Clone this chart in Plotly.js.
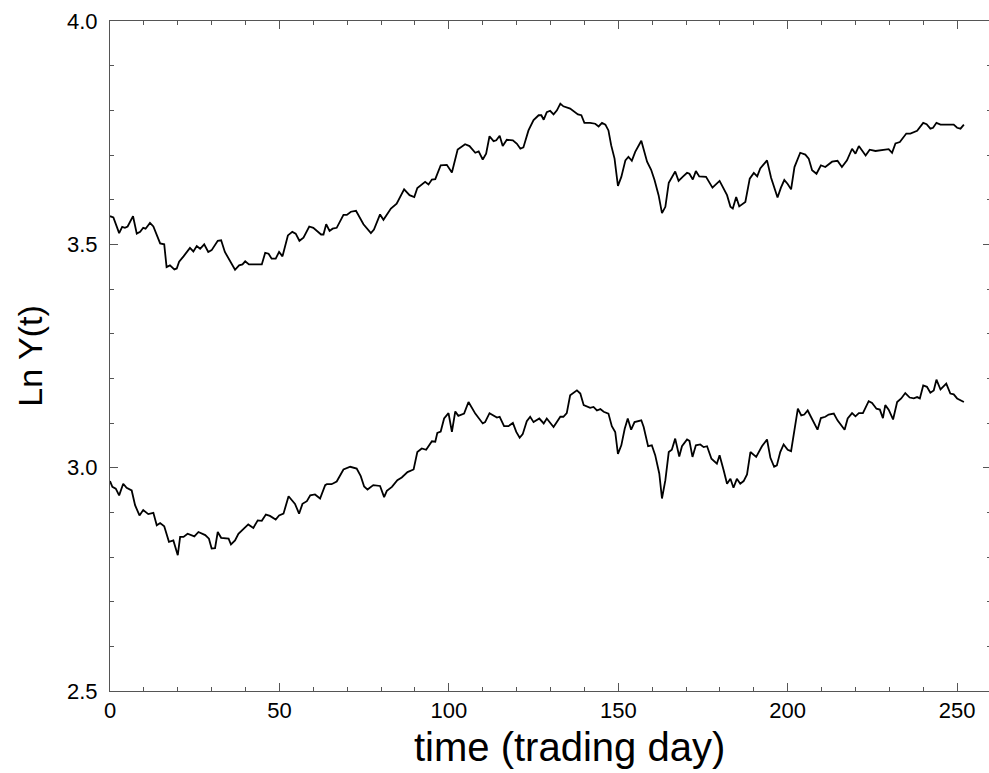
<!DOCTYPE html>
<html>
<head>
<meta charset="utf-8">
<script src="https://cdn.plot.ly/plotly-3.0.1.min.js"></script>
<style>
html,body{margin:0;padding:0;overflow:hidden;background:#fff;}
#chart{width:991px;height:773px;}
</style>
</head>
<body>
<div id="chart"></div>
<script>
// Upper series (trading day, Ln Y)
const upperDays = [0,1,2.7,3.6,4.4,5.2,6.8,7.9,8.9,9.8,10.5,11.8,12.8,14.8,16,16.7,17.7,19,19.7,20.4,21.7,23.6,24.6,25.6,26.6,27.8,29,30,31.8,32.8,33.9,35.4,36.9,38.1,39.1,39.9,41,44.8,45.8,46.8,47.7,48.9,49.9,50.9,52.5,53.8,54.8,55.9,57.1,58.8,60,62.3,63,63.8,64.8,65.7,66.9,68.9,69.9,71.1,72.6,74.8,77,77.9,79.7,80.7,82.9,84.6,86.8,88.4,89.8,90.7,92,93,94,95,96,97.6,99.4,100.9,102.6,104.8,106.1,107.8,108.8,110,111,112,113.2,114,115,115.9,117.1,118.9,120.1,121.1,122,123.5,125,126.5,127.3,128,128.9,129.9,130.9,131.9,132.9,133.8,135.8,137.1,138.1,139.1,140,141.7,143.2,144.2,145.2,146.2,147.1,147.9,148.9,149.9,150.9,152.1,153,154,155,156.8,157.5,158.5,159.7,160.7,161.9,162.9,163.9,164.9,166.8,167.8,169,170.3,171,172,172.9,173.9,175.9,177.8,179.9,181.1,182.1,183.1,183.8,184.8,185.7,187.5,188.8,190,191,191.9,193.9,195.1,197,198,199,200,201,202,203.7,205.2,206.2,207.2,208.5,209.8,211.1,213.1,214.7,216,217.5,219,220,221,223,224.2,225.9,228.8,229.8,230.8,231.8,233.1,235,236.2,238.2,240,241,242.1,242.9,243.9,245.1,249,250,251,252];
const upperVals = [3.563,3.560,3.525,3.539,3.537,3.540,3.563,3.524,3.528,3.537,3.535,3.548,3.540,3.502,3.500,3.449,3.453,3.444,3.446,3.461,3.473,3.492,3.484,3.496,3.490,3.500,3.483,3.487,3.508,3.509,3.483,3.464,3.443,3.453,3.455,3.462,3.455,3.455,3.481,3.479,3.468,3.468,3.483,3.473,3.520,3.528,3.524,3.508,3.515,3.540,3.537,3.522,3.522,3.545,3.530,3.535,3.537,3.566,3.566,3.573,3.575,3.545,3.525,3.533,3.567,3.555,3.580,3.591,3.623,3.610,3.606,3.626,3.634,3.640,3.634,3.645,3.646,3.677,3.678,3.661,3.712,3.724,3.720,3.705,3.708,3.690,3.703,3.742,3.731,3.733,3.743,3.720,3.734,3.733,3.725,3.714,3.717,3.755,3.778,3.789,3.789,3.779,3.796,3.799,3.791,3.800,3.815,3.809,3.804,3.796,3.791,3.789,3.772,3.772,3.770,3.764,3.772,3.768,3.755,3.722,3.692,3.631,3.651,3.688,3.696,3.687,3.707,3.732,3.714,3.685,3.667,3.644,3.610,3.570,3.584,3.638,3.663,3.642,3.651,3.660,3.658,3.645,3.664,3.652,3.651,3.627,3.642,3.625,3.610,3.584,3.580,3.606,3.585,3.595,3.647,3.660,3.652,3.670,3.688,3.649,3.605,3.627,3.644,3.635,3.623,3.673,3.705,3.701,3.692,3.666,3.658,3.677,3.673,3.685,3.687,3.673,3.688,3.714,3.703,3.720,3.699,3.712,3.709,3.712,3.713,3.705,3.726,3.729,3.748,3.748,3.754,3.772,3.769,3.759,3.761,3.772,3.768,3.768,3.761,3.759,3.768];

// Lower series (trading day, Ln Y)
const lowerDays = [0,0.7,1.7,2.7,3.9,4.9,6.4,7.4,8.7,9.8,11.3,12.8,13.8,14.8,16,17.4,18.7,19.2,20,20.7,21.7,22.9,24.9,26.1,28.1,29.2,30,31,31.8,32.8,35,35.7,36.9,37.9,39.4,40.8,42.3,43.6,44.8,46,47.2,48.9,49.9,51.2,52.7,54.6,55.8,56.8,58.1,59.1,60.5,62,63.5,64,65.4,66.9,68.9,70.9,72.8,74,75,76,77.7,79.7,80.9,81.7,83.2,84.8,86.1,87.8,89.6,90.7,92,93.3,95,96,96.6,97.6,98.6,99.9,100.9,101.9,102.8,104.5,105.8,107.8,110,110.7,112,113.2,114.2,115,116.3,117.6,118.9,119.9,120.9,121.8,123,124,125,126.7,128,128.9,130.9,132.9,133.8,134.8,135.8,137.8,138.8,139.8,141.7,142.7,143.7,144.7,145.7,147.1,148.1,149.1,149.9,150.9,151.9,152.8,153.8,154.8,156.8,157.5,158.8,159.9,160.9,162.1,162.9,163.9,164.9,165.8,166.8,168,168.8,170.3,171,171.9,172.9,174.2,175.2,176.2,177.5,179.1,179.9,181.1,182.1,183.1,184,185,186,187,188,189,190.7,192.4,193.9,194.9,196,196.8,197.8,198.8,200,201,201.8,203,204,204.9,205.9,207.2,208.8,209.8,211.1,212.1,213.6,214.7,216.8,217.7,219,220,221,222.2,223.9,224.9,226.2,227.2,228.1,228.8,229.8,231.1,232.3,233.5,234.7,236,237.2,238.2,239,240,241.1,242.1,243.1,243.9,245.1,246.8,248,249,250,252];
const lowerVals = [2.970,2.957,2.953,2.938,2.964,2.955,2.949,2.916,2.893,2.905,2.896,2.899,2.871,2.876,2.869,2.834,2.837,2.826,2.804,2.845,2.845,2.852,2.846,2.856,2.849,2.841,2.819,2.820,2.856,2.843,2.841,2.828,2.837,2.852,2.863,2.873,2.865,2.882,2.881,2.895,2.892,2.884,2.893,2.897,2.936,2.919,2.897,2.919,2.925,2.938,2.940,2.931,2.961,2.963,2.963,2.969,2.996,3.002,2.998,2.981,2.958,2.951,2.961,2.959,2.934,2.948,2.957,2.972,2.978,2.990,2.996,3.035,3.043,3.040,3.059,3.058,3.078,3.081,3.110,3.122,3.080,3.126,3.116,3.121,3.147,3.121,3.099,3.102,3.122,3.117,3.112,3.114,3.093,3.093,3.100,3.080,3.067,3.075,3.104,3.114,3.102,3.110,3.099,3.110,3.091,3.114,3.114,3.122,3.162,3.173,3.166,3.140,3.134,3.136,3.128,3.131,3.125,3.121,3.093,3.080,3.031,3.050,3.087,3.110,3.085,3.102,3.106,3.091,3.048,3.050,3.028,2.987,2.931,2.972,3.035,3.040,3.065,3.025,3.048,3.063,3.060,3.024,3.050,3.052,3.046,3.048,3.020,3.009,3.028,2.994,2.964,2.975,2.955,2.975,2.964,2.970,2.985,3.035,3.024,3.048,3.063,3.022,3.002,3.005,3.035,3.052,3.040,3.037,3.076,3.132,3.117,3.119,3.128,3.110,3.085,3.111,3.114,3.119,3.121,3.106,3.085,3.110,3.122,3.115,3.122,3.122,3.149,3.145,3.132,3.130,3.111,3.140,3.130,3.108,3.147,3.155,3.167,3.157,3.155,3.158,3.155,3.184,3.181,3.168,3.173,3.197,3.175,3.188,3.166,3.164,3.155,3.147];

const xTickVals = [0,50,100,150,200,250];
const xTickText = ['0','50','100','150','200','250'];
const yTickVals = [2.5,3.0,3.5,4.0];
const yTickText = ['2.5','3.0','3.5','4.0'];
const xTitle = 'time (trading day)';
const yTitle = 'Ln Y(t)';

const lineStyle = {color:'#000', width:1.8};
const traces = [
  {x:upperDays, y:upperVals, mode:'lines', line:lineStyle, hoverinfo:'skip'},
  {x:lowerDays, y:lowerVals, mode:'lines', line:lineStyle, hoverinfo:'skip'}
];

const fontFam = 'Liberation Sans, Arial, sans-serif';
const axisCommon = {
  showgrid:false, zeroline:false, showline:true, linecolor:'#555', linewidth:1,
  mirror:'ticks', ticks:'inside', ticklen:8, tickwidth:1, tickcolor:'#555',
  tickfont:{family:fontFam, size:22, color:'#000'},
  tickmode:'array'
};

const layout = {
  width:991, height:773,
  margin:{l:110, r:0, t:21, b:82},
  paper_bgcolor:'#fff', plot_bgcolor:'#fff',
  showlegend:false,
  xaxis:Object.assign({}, axisCommon, {
    range:[0,260], tickvals:xTickVals, ticktext:xTickText,
    minor:{dtick:10, tick0:0, ticks:'inside', ticklen:4, tickcolor:'#555', showgrid:false}
  }),
  yaxis:Object.assign({}, axisCommon, {
    range:[2.5,4.0], tickvals:yTickVals, ticktext:yTickText,
    ticklabelstandoff:7,
    minor:{dtick:0.1, tick0:2.5, ticks:'inside', ticklen:4, tickcolor:'#555', showgrid:false},
    title:{text:yTitle, font:{family:fontFam, size:34, color:'#000'}, standoff:14}
  }),
  annotations:[{
    text:xTitle, xref:'paper', yref:'paper', x:0.521, y:0,
    xanchor:'center', yanchor:'middle', yshift:-56, showarrow:false,
    font:{family:fontFam, size:40, color:'#000'}
  }]
};

Plotly.newPlot('chart', traces, layout, {displayModeBar:false, staticPlot:true});
</script>
</body>
</html>
